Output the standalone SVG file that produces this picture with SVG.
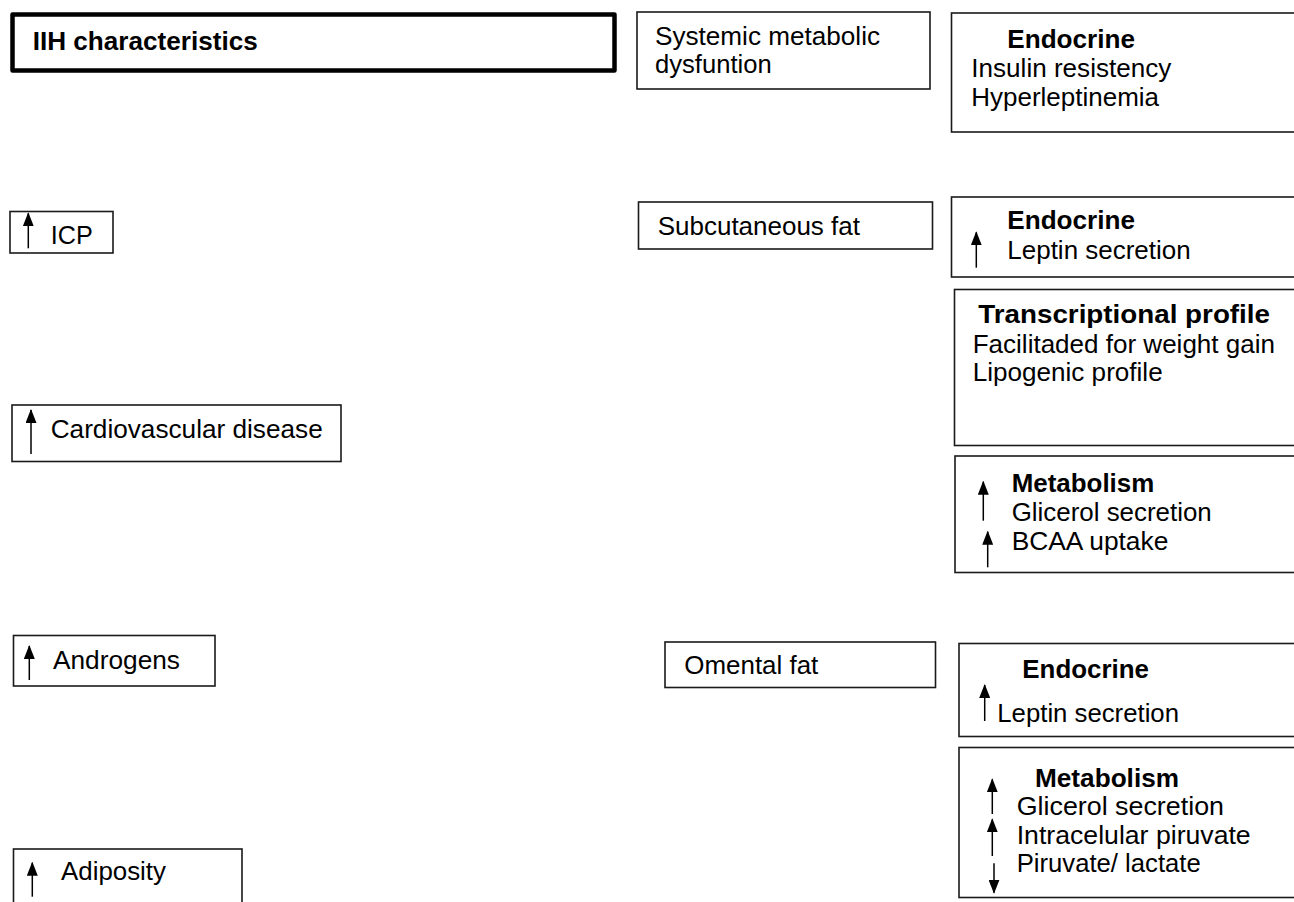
<svg xmlns="http://www.w3.org/2000/svg" width="1294" height="902" viewBox="0 0 1294 902">
<style>
  .box { fill: #ffffff; stroke: #1a1a1a; stroke-width: 1.6; }
  .title { fill: #ffffff; stroke: #000000; stroke-width: 4.5; stroke-linejoin: round; }
  text { font-family: "Liberation Sans", Arial, sans-serif; font-size: 26px; fill: #000000; }
  .b { font-weight: bold; }
  .arr { stroke: #000000; stroke-width: 1.5; fill: none; marker-end: url(#head); }
</style>
<defs>
  <marker id="head" viewBox="0 0 14 11" refX="13" refY="5.5" markerWidth="14" markerHeight="11" markerUnits="userSpaceOnUse" orient="auto">
    <path d="M0,0 L14,5.5 L0,11 Z" fill="#000000"/>
  </marker>
</defs>
<rect width="1294" height="902" fill="#ffffff"/>

<g id="node-iih">
  <rect class="title" x="12.5" y="14.5" width="602" height="56"/>
  <text class="b" x="32.7" y="50" textLength="225" lengthAdjust="spacingAndGlyphs">IIH characteristics</text>
</g>
<g id="node-systemic">
  <rect class="box" x="637" y="12" width="293" height="77"/>
  <text x="655" y="45" textLength="225" lengthAdjust="spacingAndGlyphs">Systemic metabolic</text>
  <text x="655" y="73.3" textLength="116.7" lengthAdjust="spacingAndGlyphs">dysfuntion</text>
</g>
<g id="node-endocrine-systemic">
  <rect class="box" x="951.5" y="13" width="360" height="119"/>
  <text class="b" x="1007.3" y="47.7" textLength="127.7" lengthAdjust="spacingAndGlyphs">Endocrine</text>
  <text x="971.3" y="77.3" textLength="200" lengthAdjust="spacingAndGlyphs">Insulin resistency</text>
  <text x="971.3" y="106" textLength="187.7" lengthAdjust="spacingAndGlyphs">Hyperleptinemia</text>
</g>
<g id="node-icp">
  <rect class="box" x="10" y="211.5" width="103" height="41.5"/>
  <text x="50.7" y="244.3" textLength="42" lengthAdjust="spacingAndGlyphs">ICP</text>
</g>
<g id="node-subcutaneous">
  <rect class="box" x="638.5" y="202" width="294" height="47"/>
  <text x="657.7" y="235" textLength="202.3" lengthAdjust="spacingAndGlyphs">Subcutaneous fat</text>
</g>
<g id="node-endocrine-subcutaneous">
  <rect class="box" x="951.5" y="197" width="360" height="80"/>
  <text class="b" x="1007.3" y="229" textLength="127.7" lengthAdjust="spacingAndGlyphs">Endocrine</text>
  <text x="1007.3" y="259.3" textLength="183.4" lengthAdjust="spacingAndGlyphs">Leptin secretion</text>
</g>
<g id="node-transcriptional">
  <rect class="box" x="954.5" y="289.5" width="360" height="156"/>
  <text class="b" x="978.3" y="322.7" textLength="291.7" lengthAdjust="spacingAndGlyphs">Transcriptional profile</text>
  <text x="972.7" y="353.3" textLength="302.3" lengthAdjust="spacingAndGlyphs">Facilitaded for weight gain</text>
  <text x="972.7" y="380.7" textLength="190" lengthAdjust="spacingAndGlyphs">Lipogenic profile</text>
</g>
<g id="node-metabolism-subcutaneous">
  <rect class="box" x="955" y="456" width="360" height="116.5"/>
  <text class="b" x="1011.7" y="491.7" textLength="142.6" lengthAdjust="spacingAndGlyphs">Metabolism</text>
  <text x="1011.7" y="520.7" textLength="200" lengthAdjust="spacingAndGlyphs">Glicerol secretion</text>
  <text x="1011.7" y="550" textLength="156.6" lengthAdjust="spacingAndGlyphs">BCAA uptake</text>
</g>
<g id="node-cardiovascular">
  <rect class="box" x="12" y="405" width="329" height="56.5"/>
  <text x="50.7" y="438.3" textLength="272" lengthAdjust="spacingAndGlyphs">Cardiovascular disease</text>
</g>
<g id="node-androgens">
  <rect class="box" x="13.5" y="635.5" width="201.5" height="50.5"/>
  <text x="53" y="669.3" textLength="127" lengthAdjust="spacingAndGlyphs">Androgens</text>
</g>
<g id="node-omental">
  <rect class="box" x="665" y="642" width="270.5" height="45.5"/>
  <text x="684.3" y="674" textLength="134" lengthAdjust="spacingAndGlyphs">Omental fat</text>
</g>
<g id="node-endocrine-omental">
  <rect class="box" x="959" y="643.5" width="360" height="93"/>
  <text class="b" x="1022.3" y="678.3" textLength="126.7" lengthAdjust="spacingAndGlyphs">Endocrine</text>
  <text x="997.3" y="721.7" textLength="181.7" lengthAdjust="spacingAndGlyphs">Leptin secretion</text>
</g>
<g id="node-metabolism-omental">
  <rect class="box" x="959" y="747.5" width="360" height="150"/>
  <text class="b" x="1035" y="786.7" textLength="144" lengthAdjust="spacingAndGlyphs">Metabolism</text>
  <text x="1016.7" y="815" textLength="207.3" lengthAdjust="spacingAndGlyphs">Glicerol secretion</text>
  <text x="1016.7" y="843.5" textLength="234" lengthAdjust="spacingAndGlyphs">Intracelular piruvate</text>
  <text x="1016.7" y="871.5" textLength="184" lengthAdjust="spacingAndGlyphs">Piruvate/ lactate</text>
</g>
<g id="node-adiposity">
  <rect class="box" x="13.5" y="849" width="228.5" height="70"/>
  <text x="61" y="880" textLength="105" lengthAdjust="spacingAndGlyphs">Adiposity</text>
</g>

<g id="connectors">
  <line class="arr" x1="28.3" y1="248.3" x2="28.3" y2="213.3"/>
  <line class="arr" x1="31" y1="454" x2="31" y2="410"/>
  <line class="arr" x1="29.3" y1="680" x2="29.3" y2="646"/>
  <line class="arr" x1="32.3" y1="896.7" x2="32.3" y2="862.7"/>
  <line class="arr" x1="976.3" y1="267.7" x2="976.3" y2="232.3"/>
  <line class="arr" x1="983.3" y1="520.7" x2="983.3" y2="481.7"/>
  <line class="arr" x1="987.7" y1="567.3" x2="987.7" y2="531.7"/>
  <line class="arr" x1="984.7" y1="721" x2="984.7" y2="685"/>
  <line class="arr" x1="992.3" y1="814" x2="992.3" y2="779.3"/>
  <line class="arr" x1="992.3" y1="856" x2="992.3" y2="819.3"/>
  <line class="arr" x1="994" y1="863.3" x2="994" y2="892.7"/>
</g>
</svg>
